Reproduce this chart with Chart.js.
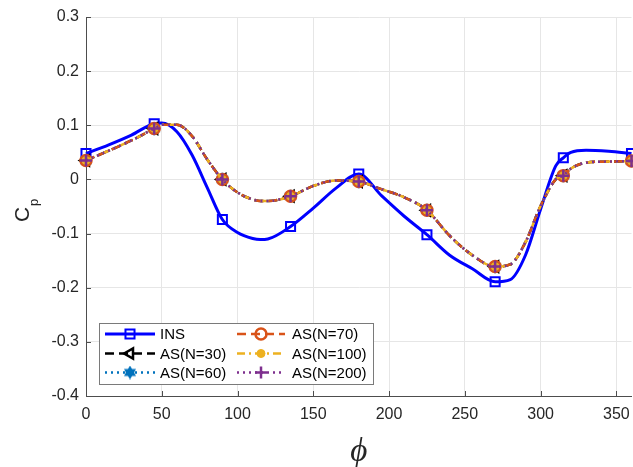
<!DOCTYPE html>
<html lang="en">
<head>
<meta charset="UTF-8">
<title>Cp vs phi</title>
<script src="https://cdn.jsdelivr.net/npm/chart.js@4.4.9/dist/chart.umd.min.js"></script>
<style>
    html, body { margin: 0; padding: 0; background: #fff; overflow: hidden; }
</style>
</head>
<body>
<canvas id="cpChart" width="640" height="467"></canvas>
<script>
    // angle phi (deg) where the curves were read
    var phi = [0, 15, 30, 45, 50, 60, 70, 80, 90, 100, 110, 115, 120, 135, 150, 165, 180,
               195, 210, 225, 240, 255, 270, 280, 290, 300, 310, 315, 320, 330, 345, 360];
    // INS curve
    var insCp = [0.048, 0.064, 0.082, 0.103, 0.104, 0.088, 0.045, -0.015, -0.074, -0.098, -0.109, -0.111, -0.110, -0.087, -0.053, -0.016, 0.010,
                 -0.030, -0.068, -0.102, -0.140, -0.165, -0.189, -0.185, -0.140, -0.055, 0.025, 0.040, 0.050, 0.054, 0.052, 0.048];
    // AS runs, N = 30 / 60 / 70 / 100 / 200 (they sit on top of each other)
    var as30Cp  = [0.035, 0.053, 0.072, 0.094, 0.101, 0.101, 0.080, 0.037, 0.000, -0.024, -0.037, -0.040, -0.040, -0.031, -0.012, -0.002, -0.004,
                   -0.018, -0.033, -0.057, -0.104, -0.140, -0.161, -0.157, -0.116, -0.049, 0.000, 0.007, 0.020, 0.031, 0.033, 0.034];
    var as60Cp  = as30Cp.slice();
    var as70Cp  = as30Cp.slice();
    var as100Cp = as30Cp.slice();
    var as200Cp = as30Cp.slice();

    var markerPhi = [0, 45, 90, 135, 180, 225, 270, 315, 360];
    var xTicks = [0, 50, 100, 150, 200, 250, 300, 350];
    var yTicks = [-0.4, -0.3, -0.2, -0.1, 0, 0.1, 0.2, 0.3];
    var seriesNames = ['INS', 'AS(N=30)', 'AS(N=60)', 'AS(N=70)', 'AS(N=100)', 'AS(N=200)'];

    var FONT = 'Arial, "Liberation Sans", Helvetica, sans-serif';

    // six pointed star marker for N=60
    function hexagram(size, color) {
        var c = document.createElement('canvas');
        c.width = size; c.height = size;
        var g = c.getContext('2d');
        var r = size / 2;
        g.fillStyle = color;
        [-90, 90].forEach(function (start) {
            g.beginPath();
            for (var k = 0; k < 3; k++) {
                var a = (start + 120 * k) * Math.PI / 180;
                var px = r + r * Math.cos(a), py = r + r * Math.sin(a);
                if (k == 0) g.moveTo(px, py); else g.lineTo(px, py);
            }
            g.closePath();
            g.fill();
        });
        return c;
    }

    var seriesData = [insCp, as30Cp, as60Cp, as70Cp, as100Cp, as200Cp];
    var seriesStyle = [
        { color: '#0000ff', width: 3,   dash: [],            point: 'rect',     rot: 0,   r: 6.4, fill: 'rgba(0,0,0,0)', pw: 2 },
        { color: '#000000', width: 2.5, dash: [9, 5],        point: 'triangle', rot: -90, r: 6,   fill: 'rgba(0,0,0,0)', pw: 2.5 },
        { color: '#0072bd', width: 2.5, dash: [2, 4],        point: hexagram(14, '#0072bd'), rot: 0, r: 7, fill: '#0072bd', pw: 0 },
        { color: '#d95319', width: 2.5, dash: [9, 5],        point: 'circle',   rot: 0,   r: 5.5, fill: 'rgba(0,0,0,0)', pw: 2.5 },
        { color: '#edb120', width: 2.5, dash: [8, 4, 2, 4],  point: 'circle',   rot: 0,   r: 4,   fill: '#edb120', pw: 1 },
        { color: '#7e2f8e', width: 2.5, dash: [2, 4],        point: 'cross',    rot: 0,   r: 6,   fill: '#7e2f8e', pw: 2.5 }
    ];

    function isMarker(i) {
        return markerPhi.indexOf(phi[i]) >= 0;
    }

    var datasets = seriesNames.map(function (name, k) {
        var s = seriesStyle[k];
        return {
            label: name,
            data: phi.map(function (p, i) { return { x: p, y: seriesData[k][i] }; }),
            borderColor: s.color,
            borderWidth: s.width,
            borderDash: s.dash,
            cubicInterpolationMode: 'monotone',
            fill: false,
            pointStyle: s.point,
            rotation: s.rot,
            pointBackgroundColor: s.fill,
            pointBorderColor: s.color,
            pointBorderWidth: s.pw,
            pointRadius: function (c) { return isMarker(c.dataIndex) ? s.r : 0; },
            pointHoverRadius: 0,
            clip: false,
            order: 6 - k
        };
    });

    // legend in two columns, drawn like the original box
    const legendBox = {
        id: 'legendBox',
        afterDraw(chart) {
            const ctx = chart.ctx;
            ctx.save();
            ctx.fillStyle = '#ffffff';
            ctx.fillRect(99, 323, 274, 61);
            ctx.strokeStyle = '#7a7a7a';
            ctx.lineWidth = 1;
            ctx.strokeRect(99.5, 323.5, 274, 61);
            var rows = [334, 353.5, 372.5];
            var cols = [{ l0: 105, l1: 155, tx: 160 }, { l0: 237, l1: 285, tx: 292 }];
            seriesNames.forEach(function (name, k) {
                var s = seriesStyle[k];
                var col = cols[Math.floor(k / 3)], y = rows[k % 3];
                ctx.strokeStyle = s.color;
                ctx.lineWidth = s.width;
                ctx.setLineDash(s.dash);
                ctx.beginPath();
                ctx.moveTo(col.l0, y);
                ctx.lineTo(col.l1, y);
                ctx.stroke();
                ctx.setLineDash([]);
                ctx.fillStyle = s.fill;
                ctx.lineWidth = s.pw;
                Chart.helpers.drawPoint(ctx, { pointStyle: s.point, rotation: s.rot, radius: s.r, borderWidth: s.pw }, (col.l0 + col.l1) / 2, y);
                ctx.fillStyle = '#000000';
                ctx.font = '15px ' + FONT;
                ctx.textAlign = 'left';
                ctx.textBaseline = 'middle';
                ctx.fillText(name, col.tx, y + 1);
            });
            ctx.restore();
        }
    };

    // axis titles and the inward tick marks
    const axisExtras = {
        id: 'axisExtras',
        afterDraw(chart) {
            const ctx = chart.ctx;
            const a = chart.chartArea;
            const xs = chart.scales.x, ys = chart.scales.y;
            ctx.save();
            ctx.strokeStyle = '#4d4d4d';
            ctx.lineWidth = 1;
            ctx.beginPath();
            yTicks.forEach(function (v) {
                var py = Math.round(ys.getPixelForValue(v)) + 0.5;
                ctx.moveTo(a.left, py); ctx.lineTo(a.left + 5, py);
            });
            xTicks.forEach(function (v) {
                var px = Math.round(xs.getPixelForValue(v)) + 0.5;
                ctx.moveTo(px, a.bottom); ctx.lineTo(px, a.bottom - 5);
            });
            ctx.stroke();

            // C_p
            ctx.fillStyle = '#262626';
            ctx.translate(29, 222);
            ctx.rotate(-Math.PI / 2);
            ctx.textBaseline = 'alphabetic';
            ctx.textAlign = 'left';
            ctx.font = '21px ' + FONT;
            ctx.fillText('C', 0, 0);
            ctx.font = '13px ' + FONT;
            ctx.fillText('p', 16, 9);
            ctx.setTransform(1, 0, 0, 1, 0, 0);

            // phi
            ctx.font = 'italic 33px "Liberation Serif", "DejaVu Serif", serif';
            ctx.textAlign = 'center';
            ctx.fillText('\u03D5', (a.left + a.right) / 2, 461);
            ctx.restore();
        }
    };

    new Chart(document.getElementById('cpChart'), {
        type: 'line',
        data: { datasets: datasets },
        options: {
            responsive: false,
            animation: false,
            events: [],
            layout: { padding: { top: 17, right: 5, left: 0, bottom: 0 } },
            scales: {
                x: {
                    type: 'linear',
                    min: 0,
                    max: 360,
                    afterBuildTicks: function (scale) { scale.ticks = xTicks.map(function (v) { return { value: v }; }); },
                    afterFit: function (scale) { scale.height = 71; },
                    grid: { color: '#e6e6e6', drawTicks: false },
                    border: { display: true, color: '#4d4d4d', width: 1 },
                    ticks: { color: '#262626', padding: 9, font: { family: FONT, size: 16 }, maxRotation: 0 }
                },
                y: {
                    type: 'linear',
                    min: -0.4,
                    max: 0.3,
                    afterBuildTicks: function (scale) { scale.ticks = yTicks.map(function (v) { return { value: v }; }); },
                    afterFit: function (scale) { scale.width = 86; },
                    grid: { color: '#e6e6e6', drawTicks: false },
                    border: { display: true, color: '#4d4d4d', width: 1 },
                    ticks: {
                        color: '#262626', padding: 7, font: { family: FONT, size: 16 },
                        callback: function (v) { return Math.abs(v) < 1e-9 ? '0' : Number(v).toFixed(1); }
                    }
                }
            },
            plugins: {
                legend: { display: false },
                tooltip: { enabled: false }
            }
        },
        plugins: [legendBox, axisExtras]
    });
</script>
</body>
</html>
